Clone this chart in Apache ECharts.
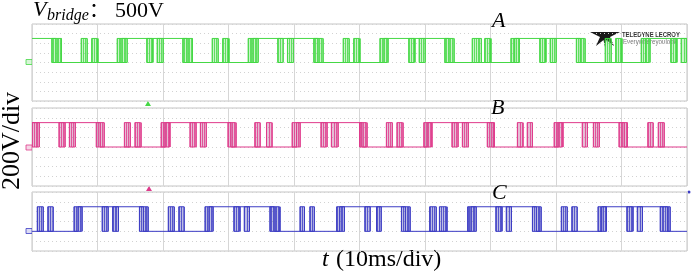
<!DOCTYPE html>
<html lang="en">
<head>
    <meta charset="UTF-8">
    <title>Vbridge waveforms</title>
    <style>
        html, body { margin: 0; padding: 0; background: #fff; }
        #chartContainer { width: 692px; height: 275px; }
    </style>
    <script src="https://cdnjs.cloudflare.com/ajax/libs/echarts/6.0.0/echarts.min.js"></script>
</head>
<body>
    <div id="chartContainer"></div>
    <script>
        // time in divisions (10 ms/div), voltage in V (200 V/div)
        const highV = 500;

        // flat level of each phase: [t, volts], held until the next entry
        const aLevels = [[0, 500], [0.37, 0], [1.37, 500], [2.37, 0], [3.37, 500], [4.37, 0],
            [5.37, 500], [6.37, 0], [7.37, 500], [8.37, 0], [9.37, 500], [10, 500]];
        const bLevels = [[0, 500], [1.04, 0], [2.04, 500], [3.04, 0], [4.04, 500], [5.04, 0],
            [6.04, 500], [7.04, 0], [8.04, 500], [9.04, 0], [10, 0]];
        const cLevels = [[0, 0], [0.70, 500], [1.70, 0], [2.70, 500], [3.70, 0], [4.70, 500],
            [5.70, 0], [6.70, 500], [7.70, 0], [8.70, 500], [9.70, 0], [10, 0]];

        // PWM bursts: [tStart, tEnd]
        const aBursts = [
            [0.30, 0.45], [0.75, 0.84], [0.91, 1.00],
            [1.30, 1.45], [1.75, 1.84], [1.91, 2.00],
            [2.30, 2.45], [2.75, 2.84], [2.91, 3.00],
            [3.30, 3.45], [3.75, 3.83], [3.90, 3.99],
            [4.30, 4.44], [4.75, 4.84], [4.91, 5.00],
            [5.31, 5.43], [5.75, 5.84], [5.91, 6.00],
            [6.30, 6.44], [6.72, 6.86], [6.91, 7.00],
            [7.31, 7.44], [7.75, 7.84], [7.91, 8.00],
            [8.31, 8.44], [8.75, 8.84], [8.91, 9.00],
            [9.30, 9.43], [9.75, 9.84], [9.91, 9.99]
        ];
        const bBursts = [
            [0.00, 0.11], [0.41, 0.50], [0.57, 0.66],
            [0.98, 1.10], [1.41, 1.50], [1.57, 1.66],
            [1.97, 2.10], [2.41, 2.50], [2.57, 2.66],
            [2.99, 3.11], [3.40, 3.48], [3.58, 3.66],
            [3.97, 4.09], [4.41, 4.50], [4.57, 4.67],
            [5.00, 5.11], [5.41, 5.50], [5.57, 5.66],
            [5.98, 6.10], [6.41, 6.50], [6.57, 6.66],
            [6.95, 7.06], [7.41, 7.49], [7.56, 7.64],
            [7.97, 8.10], [8.40, 8.48], [8.57, 8.66],
            [8.96, 9.09], [9.40, 9.48], [9.56, 9.65]
        ];
        const cBursts = [
            [0.08, 0.17], [0.24, 0.32], [0.64, 0.76],
            [1.07, 1.16], [1.23, 1.32], [1.64, 1.77],
            [2.08, 2.17], [2.24, 2.32], [2.64, 2.76],
            [3.08, 3.17], [3.24, 3.32], [3.63, 3.78],
            [4.09, 4.16], [4.24, 4.31], [4.65, 4.77],
            [5.08, 5.16], [5.26, 5.33], [5.64, 5.77],
            [6.07, 6.17], [6.22, 6.33], [6.65, 6.78],
            [7.08, 7.17], [7.24, 7.32], [7.64, 7.77],
            [8.08, 8.17], [8.24, 8.32], [8.64, 8.77],
            [9.08, 9.17], [9.24, 9.32], [9.59, 9.74]
        ];

        const phases = [
            { name: 'A', levels: aLevels, bursts: aBursts, color: '#45d845', fill: 'rgba(80,220,80,0.30)', yMin: -800 },
            { name: 'B', levels: bLevels, bursts: bBursts, color: '#df3a8b', fill: 'rgba(190,90,150,0.40)', yMin: -800 },
            { name: 'C', levels: cLevels, bursts: cBursts, color: '#3c3cc4', fill: 'rgba(90,90,190,0.40)', yMin: -400 }
        ];
        const gridBoxes = [
            { top: 24, height: 77 },
            { top: 108, height: 78 },
            { top: 192, height: 59 }
        ];

        const serif = '"Liberation Serif", "Times New Roman", serif';
        const sans = '"Liberation Sans", Arial, sans-serif';

        function burstItem(color, fill) {
            return function (params, api) {
                const p0 = api.coord([api.value(0), highV]);
                const p1 = api.coord([api.value(1), 0]);
                const x0 = p0[0], x1 = p1[0], yH = p0[1], yL = p1[1];
                const n = Math.max(3, Math.round((x1 - x0) / 1.5));
                const children = [{
                    type: 'rect',
                    shape: { x: x0, y: yH, width: x1 - x0, height: yL - yH },
                    style: { fill: fill, stroke: color, lineWidth: 1 }
                }];
                for (let i = 0; i < n; i++) {
                    const x = Math.round(x0 + (x1 - x0) * i / (n - 1)) + 0.5;
                    children.push({
                        type: 'line',
                        shape: { x1: x, y1: yH, x2: x, y2: yL },
                        style: { stroke: color, lineWidth: 0.8 }
                    });
                }
                return { type: 'group', children: children };
            };
        }

        const grid = [], xAxis = [], yAxis = [], series = [];
        phases.forEach((ph, i) => {
            grid.push({
                left: 32, width: 655, top: gridBoxes[i].top, height: gridBoxes[i].height,
                show: true, borderColor: '#c4c4c4', borderWidth: 1, backgroundColor: '#fff'
            });
            xAxis.push({
                type: 'value', gridIndex: i, min: 0, max: 10, interval: 1,
                axisLine: { show: false }, axisTick: { show: false }, axisLabel: { show: false },
                splitLine: { show: true, lineStyle: { color: '#d6d6d6', width: 1 } }
            });
            yAxis.push({
                type: 'value', gridIndex: i, min: ph.yMin, max: 800, interval: 200,
                axisLine: { show: false }, axisTick: { show: false }, axisLabel: { show: false },
                splitLine: { show: true, lineStyle: { color: '#d2d2d2', width: 1, type: [1, 3] } }
            });
            series.push({
                type: 'line', name: ph.name, xAxisIndex: i, yAxisIndex: i,
                data: ph.levels, step: 'end', symbol: 'none', z: 3,
                lineStyle: { color: ph.color, width: 1 }, animation: false
            });
            series.push({
                type: 'custom', name: ph.name + ' pwm', xAxisIndex: i, yAxisIndex: i,
                data: ph.bursts, encode: { x: [0, 1] }, clip: true, z: 4,
                renderItem: burstItem(ph.color, ph.fill), animation: false
            });
        });

        const graphic = [
            // V_bridge : 500V
            { type: 'text', x: 33, y: 10, style: { text: 'V', font: 'italic 22px ' + serif, fill: '#000', verticalAlign: 'middle' } },
            { type: 'text', x: 47, y: 16, style: { text: 'bridge', font: 'italic 16px ' + serif, fill: '#000', verticalAlign: 'middle' } },
            { type: 'text', x: 89, y: 12, style: { text: '：', font: '20px ' + serif + ', "Noto Sans CJK SC"', fill: '#000', verticalAlign: 'middle' } },
            { type: 'text', x: 115, y: 11, style: { text: '500V', font: '22px ' + serif, fill: '#000', verticalAlign: 'middle' } },
            // phase labels
            { type: 'text', x: 492, y: 21, style: { text: 'A', font: 'italic 22px ' + serif, fill: '#000', verticalAlign: 'middle' } },
            { type: 'text', x: 491, y: 108, style: { text: 'B', font: 'italic 22px ' + serif, fill: '#000', verticalAlign: 'middle' } },
            { type: 'text', x: 492, y: 193, style: { text: 'C', font: 'italic 22px ' + serif, fill: '#000', verticalAlign: 'middle' } },
            // axis titles
            {
                type: 'text', x: 12, y: 141, rotation: Math.PI / 2,
                style: { text: '200V/div', font: '26px ' + serif, fill: '#000', align: 'center', verticalAlign: 'middle' }
            },
            { type: 'text', x: 322, y: 260, style: { text: 't', font: 'italic 24px ' + serif, fill: '#000', verticalAlign: 'middle' } },
            { type: 'text', x: 336, y: 260, style: { text: '(10ms/div)', font: '24px ' + serif, fill: '#000', verticalAlign: 'middle' } },
            // trigger markers
            { type: 'polygon', shape: { points: [[145, 106], [151, 106], [148, 101]] }, style: { fill: '#45d845' } },
            { type: 'polygon', shape: { points: [[146, 191], [152, 191], [149, 186]] }, style: { fill: '#df3a8b' } },
            { type: 'circle', shape: { cx: 689, cy: 192, r: 1.5 }, style: { fill: '#3c3cc4' } },
            // channel ground markers
            { type: 'rect', shape: { x: 26, y: 59.5, width: 6, height: 5 }, style: { fill: '#d8f5d8', stroke: '#45d845', lineWidth: 0.8 } },
            { type: 'rect', shape: { x: 26, y: 145, width: 6, height: 5 }, style: { fill: '#f5d6e6', stroke: '#df3a8b', lineWidth: 0.8 } },
            { type: 'rect', shape: { x: 26, y: 228.5, width: 6, height: 5 }, style: { fill: '#dcdcf5', stroke: '#3c3cc4', lineWidth: 0.8 } },
            // scope logo
            {
                type: 'polygon',
                shape: { points: [[590, 32], [620, 32], [610, 37], [614, 46], [606.5, 40], [605, 47], [603.5, 40], [596, 46], [600, 37]] },
                style: { fill: '#1a1a1a' }
            },
            { type: 'text', x: 622, y: 34.5, scaleX: 0.74, style: { text: 'TELEDYNE LECROY', font: 'bold 8px ' + sans, fill: '#333', verticalAlign: 'middle' } },
            { type: 'text', x: 623, y: 42.5, scaleX: 0.88, style: { text: 'Everywhereyoulook', font: '7px ' + sans, fill: '#777', verticalAlign: 'middle' } }
        ];

        const chartDom = document.getElementById('chartContainer');
        const myChart = echarts.init(chartDom, null, { renderer: 'canvas' });
        myChart.setOption({
            animation: false,
            backgroundColor: '#fff',
            grid: grid,
            xAxis: xAxis,
            yAxis: yAxis,
            series: series,
            graphic: graphic
        });
    </script>
</body>
</html>
